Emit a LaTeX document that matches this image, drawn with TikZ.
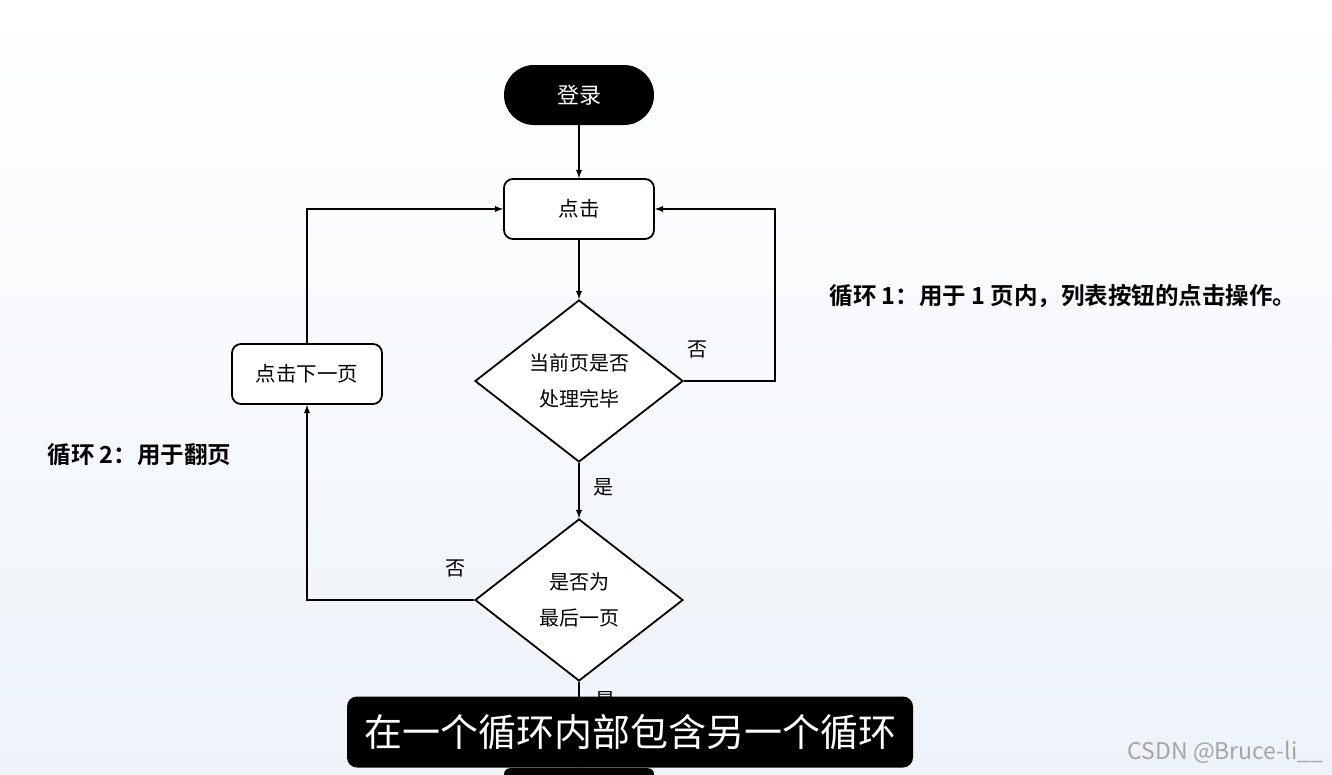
\documentclass[tikz,border=0pt]{standalone}
\usepackage{fontspec}
\setmainfont{Noto Sans CJK SC}[BoldFont={Noto Sans CJK SC Bold}]
\usepackage{xcolor}
\usetikzlibrary{arrows,calc,shapes.geometric}
\definecolor{bgtop}{HTML}{FFFFFF}
\definecolor{bgbot}{HTML}{EEF3FA}
\tikzset{
	action/.style={draw=black, line width=1.8pt, fill=white, rounded corners=9pt,
			minimum width=150pt, minimum height=60pt, font=\fontsize{20.5}{20.5}\selectfont},
	term/.style={fill=black, text=white, rounded corners=30pt,
			minimum width=150pt, minimum height=60pt, font=\fontsize{22}{22}\selectfont},
	ask/.style={diamond, draw=black, line width=1.8pt, fill=white, aspect=1.28,
			minimum width=208pt, minimum height=162pt, inner sep=0pt, align=center,
			font=\fontsize{20}{36}\selectfont},
	flow/.style={-latex, line width=1.8pt},
	tag/.style={font=\fontsize{20}{20}\selectfont},
	note/.style={anchor=west, font=\fontsize{23.5}{23.5}\selectfont\bfseries}
}

\begin{document}
\begin{tikzpicture}[x=1pt, y=-1pt]
		\shade [top color=bgtop, bottom color=bgbot] (0,0) rectangle (1332,774);
		\useasboundingbox (0,0) rectangle (1332,774);
		\node [term] (login)	at (579,95)		{登录};
		\node [action] (click)	at (579,209)	{点击};
		\node [ask]  (done)		at (579,381)	{当前页是否\\处理完毕};
		\node [ask]  (last)		at (579,600)	{是否为\\最后一页};
		\node [action] (next)	at (307,374)	{点击下一页};
		\node [term, rounded corners=6pt, anchor=north] (finish) at (579,768) {};
		\coordinate (loopR) at (775,381);
		\coordinate (loopL) at (307,600);
		\draw [flow]	(login) -- (click);
		\draw [flow]	(click) -- (done);
		\draw [flow]	(done) -- node [tag, right, xshift=10pt, yshift=3pt] {是} (last);
		\draw [flow]	(done.east) -- (loopR) |- (click.east);
		\node [tag] (no1) at (697,349) {否};
		\draw [flow]	(last.west) -- (loopL) -- (next);
		\node [tag] (no2) at (455,568) {否};
		\draw [flow]	(next) |- (click.west);
		\draw [flow]	(last) -- (finish);
		\node [tag] (yes2) at (605,700) {是};
		\node [note] (loop1) at (826,296) {循环 1：用于 1 页内，列表按钮的点击操作。};
		\node [note] (loop2) at (44,455) {循环 2：用于翻页};
		% subtitle and watermark
		\node [fill=black, text=white, rounded corners=10pt, minimum width=566pt,
			minimum height=71pt, font=\fontsize{38}{38}\selectfont] (sub) at (630,732)
			{在一个循环内部包含另一个循环};
		\node [anchor=east, text=gray!70, font=\fontsize{23}{23}\selectfont] (mark) at (1327,752)
			{CSDN @Bruce-li\_\_};
	\end{tikzpicture}
\end{document}
